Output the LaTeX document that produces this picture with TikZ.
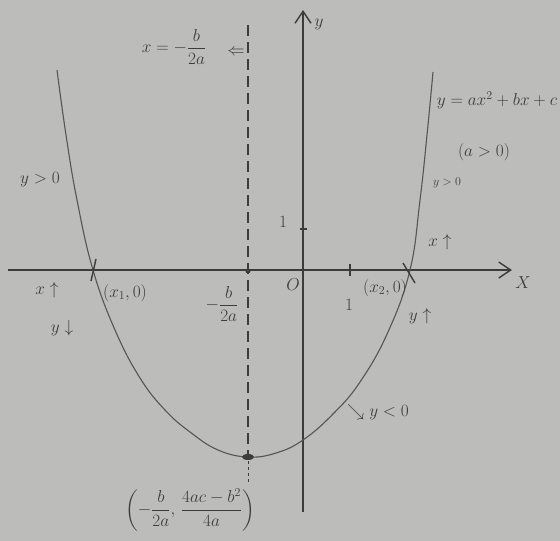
\documentclass[tikz,border=0pt]{standalone}
\usepackage{amsmath}
\usetikzlibrary{arrows.meta}
\definecolor{paper}{RGB}{188,188,186}
\definecolor{pencil}{RGB}{60,60,60}
\definecolor{curvegray}{RGB}{85,85,85}
\begin{document}
\begin{tikzpicture}[x=1pt,y=-1pt,
  every node/.style={text=pencil, font=\fontsize{17}{19}\selectfont, inner sep=1pt},
  small/.style={font=\fontsize{13}{15}\selectfont},
  axisline/.style={draw=pencil, line width=1.4pt},
  curveline/.style={draw=curvegray, line width=1.1pt},
  symline/.style={draw=pencil, line width=1.2pt, dash pattern=on 11pt off 6pt},
  headtip/.style={-{Straight Barb[length=12pt,width=16pt,line width=1.4pt]}}]
\fill[paper] (0,0) rectangle (560,541);
\useasboundingbox (0,0) rectangle (560,541);

% axes
\coordinate (xs) at (8,270);
\coordinate (xe) at (512,270);
\coordinate (ys) at (303,512);
\coordinate (ye) at (303,10);
\draw[axisline,headtip] (xs) -- (xe);
\draw[axisline,headtip] (ys) -- (ye);
\node (xlab) at (523,283) {$X$};
\node (ylab) at (319,24) {$y$};

% axis of symmetry
\coordinate (sa) at (248,25);
\coordinate (sv) at (248,455);
\coordinate (sb) at (248,482);
\draw[symline] (sa) -- (sv);
\draw[pencil, line width=1pt, dash pattern=on 3pt off 3pt] (sv) -- (sb);

% parabola
\draw[curveline] plot[smooth, tension=0.7] coordinates {
  (57,70) (66,135) (77,200) (93,270) (115,330) (140,378) (165,410) (190,432)
  (218,450) (248,457) (276,453) (303,440) (333,414) (360,382) (388,332)
  (410,270) (420,200) (427,135) (433,72)};

% marks
\coordinate (vx) at (248,457);
\fill[pencil] (vx) ellipse (6pt and 3pt);
\coordinate (ax) at (248,271);
\fill[pencil] (ax) circle (2.5pt);
\coordinate (t1a) at (350,264);
\coordinate (t1b) at (350,276);
\draw[axisline] (t1a) -- (t1b);
\coordinate (t2a) at (300,229);
\coordinate (t2b) at (307,229);
\draw[axisline] (t2a) -- (t2b);
\coordinate (c1a) at (96,259);
\coordinate (c1b) at (91,281);
\draw[axisline] (c1a) -- (c1b);
\coordinate (c2a) at (403,263);
\coordinate (c2b) at (415,283);
\draw[axisline] (c2a) -- (c2b);

% labels
\node (sym) at (174,47) {$x=-\dfrac{b}{2a}$};
\node (symarrow) at (236,52) {$\Leftarrow$};
\node (ypl) at (40,180) {$y>0$};
\node (eq) at (497,100) {$y=ax^2+bx+c$};
\node (acond) at (484,152) {$(a>0)$};
\node[small] (ypr) at (447,183) {$y>0$};
\node (oney) at (283,222) {$1$};
\node (xupr) at (440,242) {$x\uparrow$};
\node (orig) at (293,285) {$O$};
\node (onex) at (349,305) {$1$};
\node (x2) at (385,288) {$(x_2,0)$};
\node (yupr) at (420,316) {$y\uparrow$};
\node (xupl) at (47,290) {$x\uparrow$};
\node (ydnl) at (62,328) {$y\downarrow$};
\node (x1) at (125,293) {$(x_1,0)$};
\node (hb) at (222,304) {$-\dfrac{b}{2a}$};
\node (yneg) at (378,412) {$\searrow y<0$};
\node (vlab) at (190,510) {$\left(-\dfrac{b}{2a},\,\dfrac{4ac-b^2}{4a}\right)$};
\end{tikzpicture}
\end{document}
